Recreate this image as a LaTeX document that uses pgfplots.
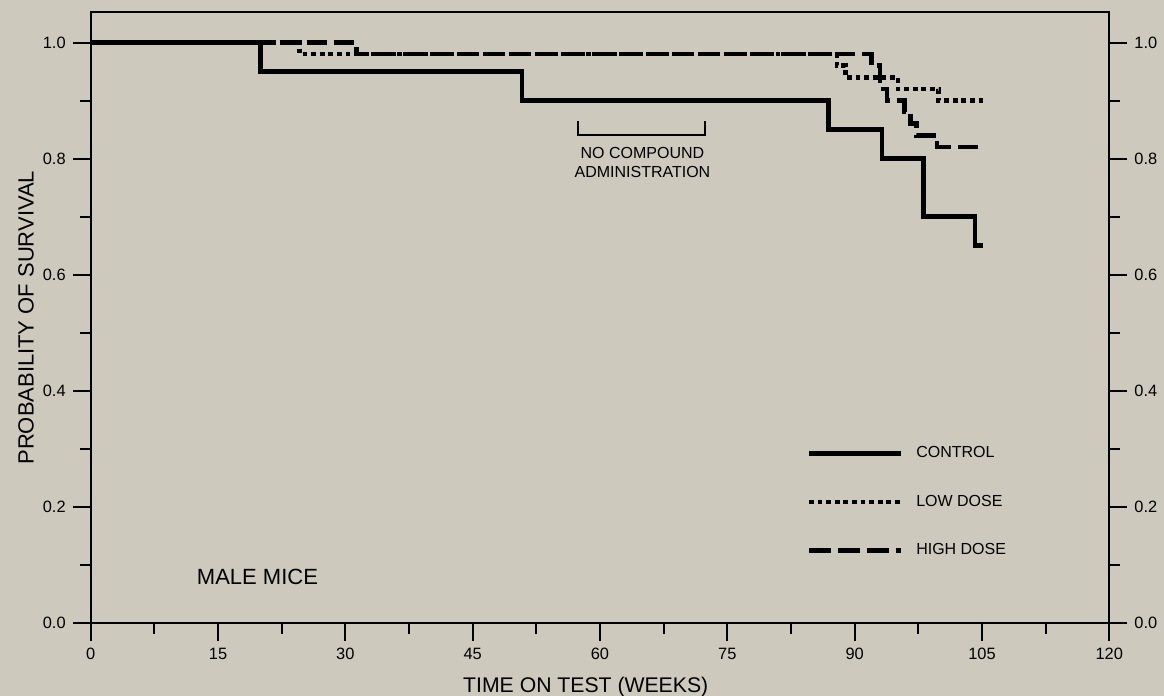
\documentclass[border=0pt]{standalone}
\usepackage{pgfplots}
\pgfplotsset{compat=1.18}
\usepackage{fontspec}
\setmainfont{Liberation Sans}
\definecolor{bg}{RGB}{205,201,189}

\pgfplotsset{
  common/.style={
    at={(0pt,0pt)}, anchor=south west,
    scale only axis, width=509.3pt, height=305.25pt,
    xmin=0, xmax=120, ymin=0, ymax=1.0517,
    axis line style={line width=1pt, black},
    tick style={line width=1pt, black},
    tick align=outside,
    major tick length=9pt, minor tick length=5.3pt,
    ytick={0,0.2,0.4,0.6,0.8,1.0},
    yticklabels={0.0,0.2,0.4,0.6,0.8,1.0},
    minor y tick num=1,
    ticklabel style={font=\fontsize{8.2}{9.8}\selectfont},
  }
}

\begin{document}
\begin{tikzpicture}
\useasboundingbox (-45.35pt,-36.5pt) rectangle (536.65pt,311.5pt);
\fill[bg] (-45.35pt,-36.5pt) rectangle (536.65pt,311.5pt);
\begin{axis}[
  common,
  clip=false,
  xtick={0,15,...,120},
  xticklabels={0,15,30,45,60,75,90,105,120},
  minor x tick num=1,
  xtick pos=bottom, ytick pos=left,
  xlabel={TIME ON TEST (WEEKS)},
  ylabel={PROBABILITY OF SURVIVAL},
  xlabel style={font=\fontsize{10.6}{12}\selectfont, at={(axis description cs:0.486,-0.1048)}, anchor=center},
  ylabel style={font=\fontsize{11}{12}\selectfont, at={(axis description cs:-0.0635,0.5)}, anchor=center},
  legend style={draw=none, fill=none, at={(axis cs:84.3,0.312)}, anchor=north west,
    font=\fontsize{8}{9.6}\selectfont, row sep=13.25pt, inner sep=0pt},
  legend cell align=left,
  legend image code/.code={\draw[#1] (0pt,0pt) -- (46pt,0pt); \path (50.5pt,0pt);},
]
% CONTROL
\addplot[const plot, line width=2.3pt, black, forget plot] coordinates {
  (0,1.00) (20.0,0.95) (50.8,0.90) (86.9,0.85) (93.2,0.80) (98.1,0.70) (104.2,0.65) (105.1,0.65)
};
% LOW DOSE
\addplot[const plot, line width=2.3pt, black, dash pattern=on 2.4pt off 1.9pt, forget plot] coordinates {
  (0,1.00) (24.6,0.98) (87.9,0.96) (88.9,0.94) (95.1,0.92) (99.9,0.90) (105.2,0.90)
};
% HIGH DOSE
\addplot[const plot, line width=2.3pt, black, dash pattern=on 10pt off 3.5pt, forget plot] coordinates {
  (0,1.00) (31.3,0.98) (92.0,0.96) (93.0,0.92) (93.8,0.90) (95.9,0.88) (96.6,0.86) (97.3,0.84) (99.7,0.82) (105.2,0.82)
};
\addlegendimage{line width=2.3pt, black}
\addlegendentry{CONTROL}
\addlegendimage{line width=2.3pt, black, dash pattern=on 2.4pt off 1.9pt}
\addlegendentry{LOW DOSE}
\addlegendimage{line width=2.3pt, black, dash pattern=on 11pt off 3.5pt}
\addlegendentry{HIGH DOSE}

\draw[line width=1pt] (axis cs:57.45,0.864) -- (axis cs:57.45,0.841) -- (axis cs:72.4,0.841) -- (axis cs:72.4,0.864);
\node[align=center, font=\fontsize{8}{9.5}\selectfont] at (axis cs:65,0.794) {NO COMPOUND\\ADMINISTRATION};
\node[font=\fontsize{11}{12}\selectfont] at (axis cs:19.65,0.079) {MALE MICE};
\end{axis}
\begin{axis}[
  common,
  hide x axis,
  axis y line*=right,
  ytick pos=right,
]
\end{axis}
\end{tikzpicture}
\end{document}
